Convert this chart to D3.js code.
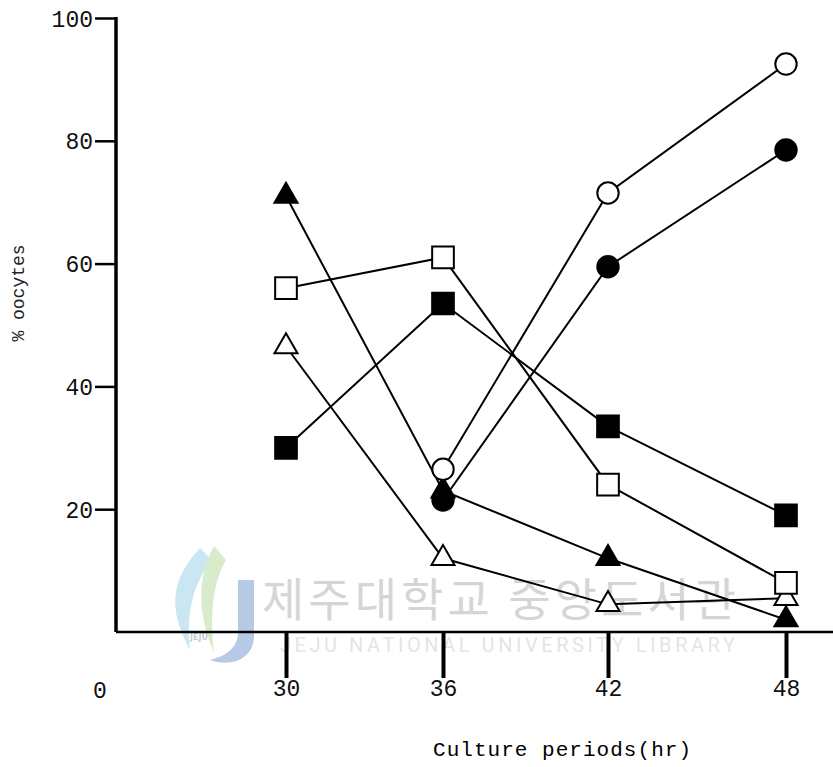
<!DOCTYPE html>
<html>
<head>
<meta charset="utf-8">
<script src="https://cdn.jsdelivr.net/npm/d3@7"></script>
<style>
  body { margin: 0; background: #fff; }
  svg { display: block; }
  .tick-label { font-family: "Liberation Mono", "DejaVu Sans Mono", monospace; font-size: 23px; fill: #111; }
</style>
</head>
<body>
<svg id="chart" width="833" height="767"></svg>
<script>
// culture periods (hr)
const hours = [30, 36, 42, 48]
const yTicks = [20, 40, 60, 80, 100]

// % oocytes per marker type
const openCircle     = [null, 26.5, 71.5, 92.5]
const filledCircle   = [null, 21.5, 59.5, 78.5]
const openSquare     = [56, 61, 24, 8]
const filledSquare   = [30, 53.5, 33.5, 19]
const openTriangle   = [46.5, 12, 4.5, 5.5]
const filledTriangle = [71, 23, 12, 2]

const series = [
  { name: "filledTriangle", values: filledTriangle, shape: "triangle", filled: true },
  { name: "openTriangle", values: openTriangle, shape: "triangle", filled: false },
  { name: "filledSquare", values: filledSquare, shape: "square", filled: true },
  { name: "openSquare", values: openSquare, shape: "square", filled: false },
  { name: "filledCircle", values: filledCircle, shape: "circle", filled: true },
  { name: "openCircle", values: openCircle, shape: "circle", filled: false }
]

const svg = d3.select("#chart")

const axisX = 116, axisY = 632

// hand drawn figure: hour spacing is not quite even
const x = d3.scaleLinear().domain(hours).range([286, 443, 608, 786])
const y = d3.scaleLinear().domain([0, 100]).range([axisY, 18])

// watermark
const wm = svg.append("g").attr("opacity", 0.55)
wm.append("path")
  .attr("d", "M200,548 C170,580 168,610 190,650 C186,615 192,585 212,560 Z")
  .attr("fill", "#9fd3ea")
wm.append("path")
  .attr("d", "M214,546 C196,580 198,615 214,652 C210,615 212,585 226,560 Z")
  .attr("fill", "#b9dca0")
wm.append("path")
  .attr("d", "M238,580 L254,580 L254,636 C254,658 232,668 210,660 C226,656 238,648 238,632 Z")
  .attr("fill", "#7d9fd0")
wm.append("text")
  .attr("x", 190).attr("y", 640)
  .style("font-family", "DejaVu Sans").style("font-size", "8px").style("font-weight", "bold")
  .attr("fill", "#8fa0b8")
  .text("JEJU")
wm.append("text")
  .attr("x", 262).attr("y", 616)
  .attr("textLength", 474)
  .style("font-family", "Noto Sans CJK KR").style("font-size", "46px")
  .attr("fill", "#b4b4b4")
  .text("제주대학교 중앙도서관")
wm.append("text")
  .attr("x", 280).attr("y", 652)
  .attr("textLength", 455)
  .style("font-family", "Roboto, sans-serif").style("font-size", "20px")
  .attr("fill", "#cfcfcf")
  .text("JEJU NATIONAL UNIVERSITY LIBRARY")

// y axis
const yAxis = d3.axisLeft(y).tickValues(yTicks).tickSize(21).tickPadding(2)
const gy = svg.append("g").attr("transform", `translate(${axisX},0)`).call(yAxis)
gy.select(".domain").remove()
gy.selectAll(".tick line").attr("stroke", "#000").attr("stroke-width", 2.5)
gy.selectAll(".tick text").attr("class", "tick-label").attr("dy", "0.35em")
svg.append("line")
  .attr("x1", axisX).attr("x2", axisX)
  .attr("y1", y(100) - 1).attr("y2", axisY)
  .attr("stroke", "#000").attr("stroke-width", 3.5)

// x axis
svg.append("line")
  .attr("x1", axisX).attr("x2", 833)
  .attr("y1", axisY).attr("y2", axisY)
  .attr("stroke", "#000").attr("stroke-width", 2.5)
const xAxis = d3.axisBottom(x).tickValues(hours).tickSize(46).tickPadding(2)
const gx = svg.append("g").attr("transform", `translate(0,${axisY})`).call(xAxis)
gx.select(".domain").remove()
gx.selectAll(".tick line").attr("stroke", "#000").attr("stroke-width", 4)
gx.selectAll(".tick text").attr("class", "tick-label")
svg.append("text").attr("class", "tick-label")
  .attr("x", 100).attr("y", 698).attr("text-anchor", "middle")
  .text("0")

// axis titles
svg.append("text")
  .attr("x", 562).attr("y", 756).attr("text-anchor", "middle")
  .style("font-family", "Liberation Mono, monospace").style("font-size", "21px")
  .attr("textLength", 258)
  .text("Culture periods(hr)")
svg.append("text")
  .attr("transform", `translate(24,293) rotate(-90)`)
  .attr("text-anchor", "middle")
  .style("font-family", "Liberation Mono, monospace").style("font-size", "18px")
  .attr("fill", "#222")
  .text("% oocytes")

// lines
const line = d3.line()
  .defined(d => d != null)
  .x((d, i) => x(hours[i]))
  .y(d => y(d))

const plot = svg.append("g")
plot.selectAll("path.series")
  .data(series)
  .join("path")
  .attr("class", "series")
  .attr("fill", "none")
  .attr("stroke", "#000")
  .attr("stroke-width", 2)
  .attr("d", s => line(s.values))

// markers
const symbolType = { circle: d3.symbolCircle, square: d3.symbolSquare, triangle: d3.symbolTriangle }
const symbolSize = { circle: 360, square: 470, triangle: 230 }

series.forEach(s => {
  const pts = s.values.map((v, i) => ({ v, h: hours[i] })).filter(p => p.v != null)
  plot.append("g").selectAll("path")
    .data(pts)
    .join("path")
    .attr("transform", p => `translate(${x(p.h)},${y(p.v)})`)
    .attr("d", d3.symbol().type(symbolType[s.shape]).size(symbolSize[s.shape]))
    .attr("fill", s.filled ? "#000" : "#fff")
    .attr("stroke", "#000")
    .attr("stroke-width", 2)
})
</script>
</body>
</html>
